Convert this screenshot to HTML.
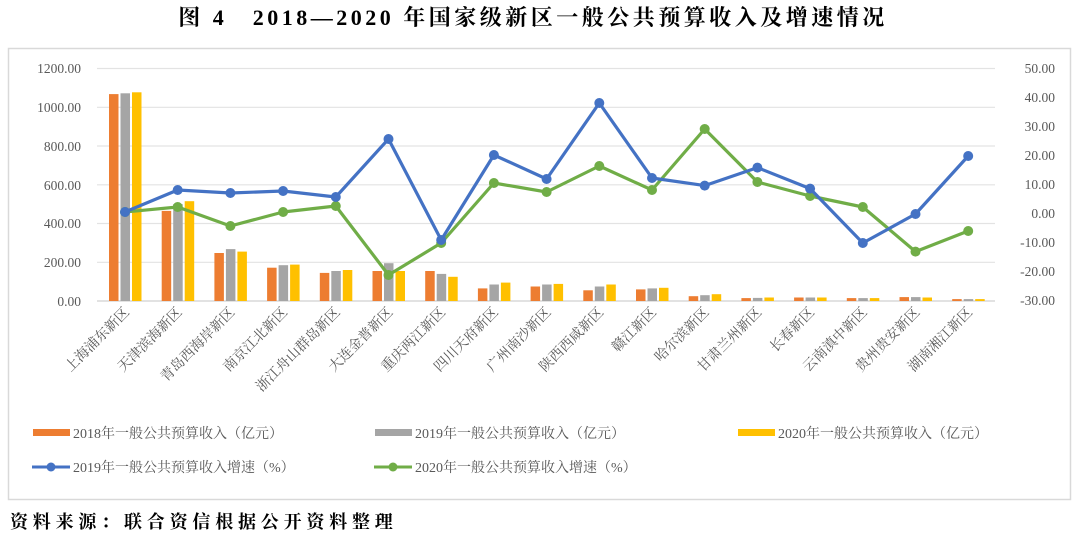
<!DOCTYPE html>
<html><head><meta charset="utf-8"><style>
body{margin:0;background:#fff;}
svg{display:block;font-family:"Liberation Serif","Noto Serif CJK SC",serif;}
</style></head><body>
<svg width="1080" height="540" xmlns="http://www.w3.org/2000/svg">
<text x="533" y="25" text-anchor="middle" font-size="22" font-weight="bold" fill="#000" letter-spacing="3.5">图 4　2018—2020 年国家级新区一般公共预算收入及增速情况</text>
<rect x="8.5" y="48.5" width="1062" height="451" fill="#fff" stroke="#d9d9d9" stroke-width="1.5"/>
<g stroke="#e3e3e3" stroke-width="1.2">
<line x1="97" x2="995" y1="68.5" y2="68.5"/><line x1="97" x2="995" y1="107.3" y2="107.3"/>
<line x1="97" x2="995" y1="146" y2="146"/><line x1="97" x2="995" y1="184.8" y2="184.8"/>
<line x1="97" x2="995" y1="223.5" y2="223.5"/><line x1="97" x2="995" y1="262.3" y2="262.3"/>
<line x1="97" x2="995" y1="301" y2="301" stroke="#d0d0d0"/>
</g>
<g font-size="13.5" fill="#595959" text-anchor="end">
<text x="81" y="73">1200.00</text><text x="81" y="112">1000.00</text><text x="81" y="151">800.00</text>
<text x="81" y="190">600.00</text><text x="81" y="228">400.00</text><text x="81" y="267">200.00</text><text x="81" y="306">0.00</text>
</g>
<g font-size="13.5" fill="#595959" text-anchor="end">
<text x="1055" y="73">50.00</text><text x="1055" y="102">40.00</text><text x="1055" y="131">30.00</text>
<text x="1055" y="160">20.00</text><text x="1055" y="189">10.00</text><text x="1055" y="218">0.00</text>
<text x="1055" y="247">-10.00</text><text x="1055" y="276">-20.00</text><text x="1055" y="305">-30.00</text>
</g>
<g fill="#ed7d31">
<rect x="109" y="94.1" width="9.5" height="206.9"/><rect x="161.7" y="210.9" width="9.5" height="90.1"/>
<rect x="214.4" y="253" width="9.5" height="48"/><rect x="267.1" y="267.7" width="9.5" height="33.3"/>
<rect x="319.8" y="272.9" width="9.5" height="28.1"/><rect x="372.5" y="271" width="9.5" height="30"/>
<rect x="425.2" y="271" width="9.5" height="30"/><rect x="477.9" y="288.4" width="9.5" height="12.6"/>
<rect x="530.6" y="286.5" width="9.5" height="14.5"/><rect x="583.3" y="290.3" width="9.5" height="10.7"/>
<rect x="636" y="289.4" width="9.5" height="11.6"/><rect x="688.7" y="296.2" width="9.5" height="4.8"/>
<rect x="741.4" y="298.1" width="9.5" height="2.9"/><rect x="794.1" y="297.5" width="9.5" height="3.5"/>
<rect x="846.8" y="298.1" width="9.5" height="2.9"/><rect x="899.5" y="297.1" width="9.5" height="3.9"/>
<rect x="952.2" y="299.1" width="9.5" height="1.9"/>
</g>
<g fill="#a5a5a5">
<rect x="120.5" y="93.3" width="9.5" height="207.7"/><rect x="173.2" y="204.1" width="9.5" height="96.9"/>
<rect x="225.9" y="249.1" width="9.5" height="51.9"/><rect x="278.6" y="265.2" width="9.5" height="35.8"/>
<rect x="331.3" y="271" width="9.5" height="30"/><rect x="384" y="263.2" width="9.5" height="37.8"/>
<rect x="436.7" y="273.9" width="9.5" height="27.1"/><rect x="489.4" y="284.5" width="9.5" height="16.5"/>
<rect x="542.1" y="284.5" width="9.5" height="16.5"/><rect x="594.8" y="286.5" width="9.5" height="14.5"/>
<rect x="647.5" y="288.4" width="9.5" height="12.6"/><rect x="700.2" y="295.2" width="9.5" height="5.8"/>
<rect x="752.9" y="297.9" width="9.5" height="3.1"/><rect x="805.6" y="297.5" width="9.5" height="3.5"/>
<rect x="858.3" y="298.1" width="9.5" height="2.9"/><rect x="911" y="297.1" width="9.5" height="3.9"/>
<rect x="963.7" y="299.1" width="9.5" height="1.9"/>
</g>
<g fill="#ffc000">
<rect x="132" y="92.3" width="9.5" height="208.7"/><rect x="184.7" y="201.2" width="9.5" height="99.8"/>
<rect x="237.4" y="251.6" width="9.5" height="49.4"/><rect x="290.1" y="264.6" width="9.5" height="36.4"/>
<rect x="342.8" y="270" width="9.5" height="31"/><rect x="395.5" y="271" width="9.5" height="30"/>
<rect x="448.2" y="276.8" width="9.5" height="24.2"/><rect x="500.9" y="282.6" width="9.5" height="18.4"/>
<rect x="553.6" y="283.9" width="9.5" height="17.1"/><rect x="606.3" y="284.5" width="9.5" height="16.5"/>
<rect x="659" y="287.8" width="9.5" height="13.2"/><rect x="711.7" y="294.2" width="9.5" height="6.8"/>
<rect x="764.4" y="297.5" width="9.5" height="3.5"/><rect x="817.1" y="297.5" width="9.5" height="3.5"/>
<rect x="869.8" y="298.1" width="9.5" height="2.9"/><rect x="922.5" y="297.5" width="9.5" height="3.5"/>
<rect x="975.2" y="299.1" width="9.5" height="1.9"/>
</g>
<polyline fill="none" stroke="#70ad47" stroke-width="3.2" stroke-linejoin="round" points="125,212 177.7,207 230.4,226 283.1,212 335.8,206 388.5,275 441.2,243 493.9,183 546.6,192 599.3,166 652,190 704.7,129 757.4,182 810.1,196 862.8,207 915.5,251.6 968.2,231"/>
<g fill="#70ad47">
<circle cx="125" cy="212" r="5"/><circle cx="177.7" cy="207" r="5"/><circle cx="230.4" cy="226" r="5"/><circle cx="283.1" cy="212" r="5"/><circle cx="335.8" cy="206" r="5"/><circle cx="388.5" cy="275" r="5"/><circle cx="441.2" cy="243" r="5"/><circle cx="493.9" cy="183" r="5"/><circle cx="546.6" cy="192" r="5"/><circle cx="599.3" cy="166" r="5"/><circle cx="652" cy="190" r="5"/><circle cx="704.7" cy="129" r="5"/><circle cx="757.4" cy="182" r="5"/><circle cx="810.1" cy="196" r="5"/><circle cx="862.8" cy="207" r="5"/><circle cx="915.5" cy="251.6" r="5"/><circle cx="968.2" cy="231" r="5"/>
</g>
<polyline fill="none" stroke="#4472c4" stroke-width="3.2" stroke-linejoin="round" points="125,212 177.7,190 230.4,193 283.1,191 335.8,197 388.5,139 441.2,240 493.9,155 546.6,179 599.3,103 652,178 704.7,185.6 757.4,167.6 810.1,188.6 862.8,243 915.5,214 968.2,156"/>
<g fill="#4472c4">
<circle cx="125" cy="212" r="5"/><circle cx="177.7" cy="190" r="5"/><circle cx="230.4" cy="193" r="5"/><circle cx="283.1" cy="191" r="5"/><circle cx="335.8" cy="197" r="5"/><circle cx="388.5" cy="139" r="5"/><circle cx="441.2" cy="240" r="5"/><circle cx="493.9" cy="155" r="5"/><circle cx="546.6" cy="179" r="5"/><circle cx="599.3" cy="103" r="5"/><circle cx="652" cy="178" r="5"/><circle cx="704.7" cy="185.6" r="5"/><circle cx="757.4" cy="167.6" r="5"/><circle cx="810.1" cy="188.6" r="5"/><circle cx="862.8" cy="243" r="5"/><circle cx="915.5" cy="214" r="5"/><circle cx="968.2" cy="156" r="5"/>
</g>
<g font-size="14" fill="#595959" text-anchor="end">
<text transform="translate(130,313) rotate(-45)">上海浦东新区</text>
<text transform="translate(182.7,313) rotate(-45)">天津滨海新区</text>
<text transform="translate(235.4,313) rotate(-45)">青岛西海岸新区</text>
<text transform="translate(288.1,313) rotate(-45)">南京江北新区</text>
<text transform="translate(340.8,313) rotate(-45)">浙江舟山群岛新区</text>
<text transform="translate(393.5,313) rotate(-45)">大连金普新区</text>
<text transform="translate(446.2,313) rotate(-45)">重庆两江新区</text>
<text transform="translate(498.9,313) rotate(-45)">四川天府新区</text>
<text transform="translate(551.6,313) rotate(-45)">广州南沙新区</text>
<text transform="translate(604.3,313) rotate(-45)">陕西西咸新区</text>
<text transform="translate(657,313) rotate(-45)">赣江新区</text>
<text transform="translate(709.7,313) rotate(-45)">哈尔滨新区</text>
<text transform="translate(762.4,313) rotate(-45)">甘肃兰州新区</text>
<text transform="translate(815.1,313) rotate(-45)">长春新区</text>
<text transform="translate(867.8,313) rotate(-45)">云南滇中新区</text>
<text transform="translate(920.5,313) rotate(-45)">贵州贵安新区</text>
<text transform="translate(973.2,313) rotate(-45)">湖南湘江新区</text>
</g>
<g font-size="14" fill="#595959">
<rect x="33" y="429" width="37" height="7" fill="#ed7d31"/><text x="73" y="438">2018年一般公共预算收入（亿元）</text>
<rect x="375" y="429" width="37" height="7" fill="#a5a5a5"/><text x="415" y="438">2019年一般公共预算收入（亿元）</text>
<rect x="738" y="429" width="37" height="7" fill="#ffc000"/><text x="778" y="438">2020年一般公共预算收入（亿元）</text>
<line x1="32" x2="70" y1="467" y2="467" stroke="#4472c4" stroke-width="3"/><circle cx="51" cy="467" r="4.5" fill="#4472c4"/>
<text x="73" y="472">2019年一般公共预算收入增速（%）</text>
<line x1="374" x2="412" y1="467" y2="467" stroke="#70ad47" stroke-width="3"/><circle cx="393" cy="467" r="4.5" fill="#70ad47"/>
<text x="415" y="472">2020年一般公共预算收入增速（%）</text>
</g>
<text x="10" y="528" font-size="18" fill="#000" font-weight="bold" letter-spacing="4.8">资料来源：联合资信根据公开资料整理</text>
</svg>
</body></html>
